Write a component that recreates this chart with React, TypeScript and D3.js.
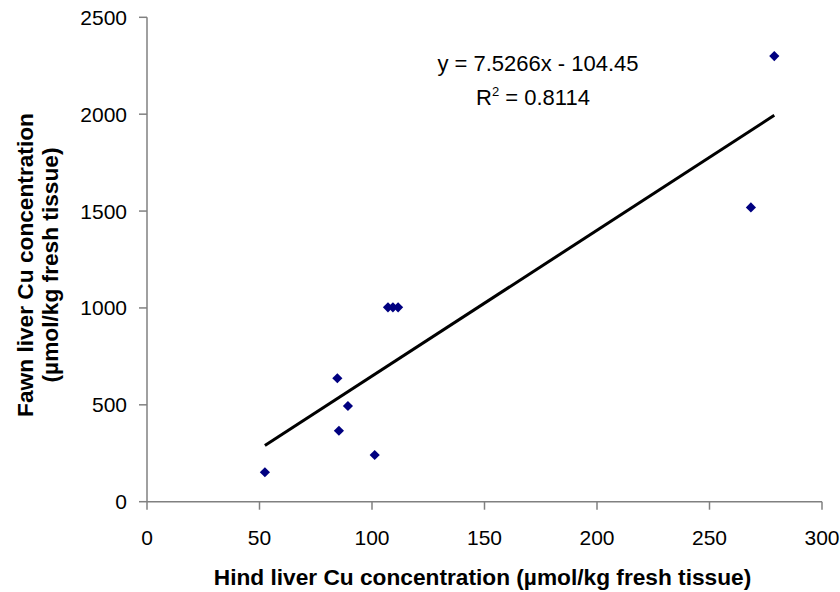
import React from "react";
import * as d3 from "d3";

// Hind vs fawn liver copper, one entry per animal
const hindCu = [52.4, 84.6, 85.3, 89.3, 101.2, 107.1, 109.3, 111.6, 268.4, 278.8];
const fawnCu = [152, 637, 366, 494, 241, 1003, 1003, 1003, 1519, 2300];

const xTicks = [0, 50, 100, 150, 200, 250, 300];
const yTicks = [0, 500, 1000, 1500, 2000, 2500];

// Linear trend line as reported in the label
const slope = 7.5266;
const intercept = -104.45;
const rSquared = 0.8114;

const W = 840;
const H = 592;
const FONT = "'Liberation Sans', Arial, Helvetica, sans-serif";
const AXIS = "#808080";

export default function App() {
  const x = d3.scaleLinear().domain([0, 300]).range([147, 822]);
  const y = d3.scaleLinear().domain([0, 2500]).range([501.7, 17.3]);

  const pts = hindCu.map((h, i) => ({ h, f: fawnCu[i] }));
  const [xMin, xMax] = d3.extent(hindCu) as [number, number];
  const trend = d3
    .line<number>()
    .x((v) => x(v))
    .y((v) => y(slope * v + intercept))([xMin, xMax]);

  const diamond = d3.symbol().type(d3.symbolDiamond2).size(66)();

  return (
    <svg
      width={W}
      height={H}
      style={{ position: "absolute", left: 0, top: 0, background: "#fff" }}
      fontFamily={FONT}
    >
      <rect width={W} height={H} fill="#fff" />

      {/* axes */}
      <line x1={x(0)} x2={x(300)} y1={y(0)} y2={y(0)} stroke={AXIS} strokeWidth={1.5} />
      <line x1={x(0)} x2={x(0)} y1={y(0)} y2={y(2500)} stroke={AXIS} strokeWidth={1.5} />

      {xTicks.map((t) => (
        <g key={"xt" + t}>
          <line x1={x(t)} x2={x(t)} y1={y(0)} y2={y(0) + 8} stroke={AXIS} strokeWidth={1.5} />
          <text x={x(t)} y={545} fontSize={21} textAnchor="middle" fill="#000">
            {t}
          </text>
        </g>
      ))}
      {yTicks.map((t) => (
        <g key={"yt" + t}>
          <line x1={x(0) - 8} x2={x(0)} y1={y(t)} y2={y(t)} stroke={AXIS} strokeWidth={1.5} />
          <text x={127} y={y(t) + 7.5} fontSize={21} textAnchor="end" fill="#000">
            {t}
          </text>
        </g>
      ))}

      {/* trend line */}
      <path d={trend ?? ""} stroke="#000" strokeWidth={3} fill="none" />

      {/* observations */}
      {pts.map((p, i) => (
        <path
          key={i}
          d={diamond ?? ""}
          transform={`translate(${x(p.h)},${y(p.f)})`}
          fill="#000080"
        />
      ))}

      {/* regression label */}
      <text x={538} y={71} fontSize={22} textAnchor="middle" fill="#000">
        {`y = ${slope}x - ${Math.abs(intercept)}`}
      </text>
      <text x={533} y={105} fontSize={22} textAnchor="middle" fill="#000">
        R<tspan dy={-9} fontSize={13}>2</tspan>
        <tspan dy={9}>{` = ${rSquared}`}</tspan>
      </text>

      {/* axis titles */}
      <text x={482.5} y={585} fontSize={22.7} fontWeight="bold" textAnchor="middle" fill="#000">
        Hind liver Cu concentration (µmol/kg fresh tissue)
      </text>
      <g transform="translate(33,265) rotate(-90)">
        <text x={0} y={0} fontSize={22.7} fontWeight="bold" textAnchor="middle" fill="#000">
          Fawn liver Cu concentration
        </text>
        <text x={0} y={25} fontSize={22.7} fontWeight="bold" textAnchor="middle" fill="#000">
          (µmol/kg fresh tissue)
        </text>
      </g>
    </svg>
  );
}
